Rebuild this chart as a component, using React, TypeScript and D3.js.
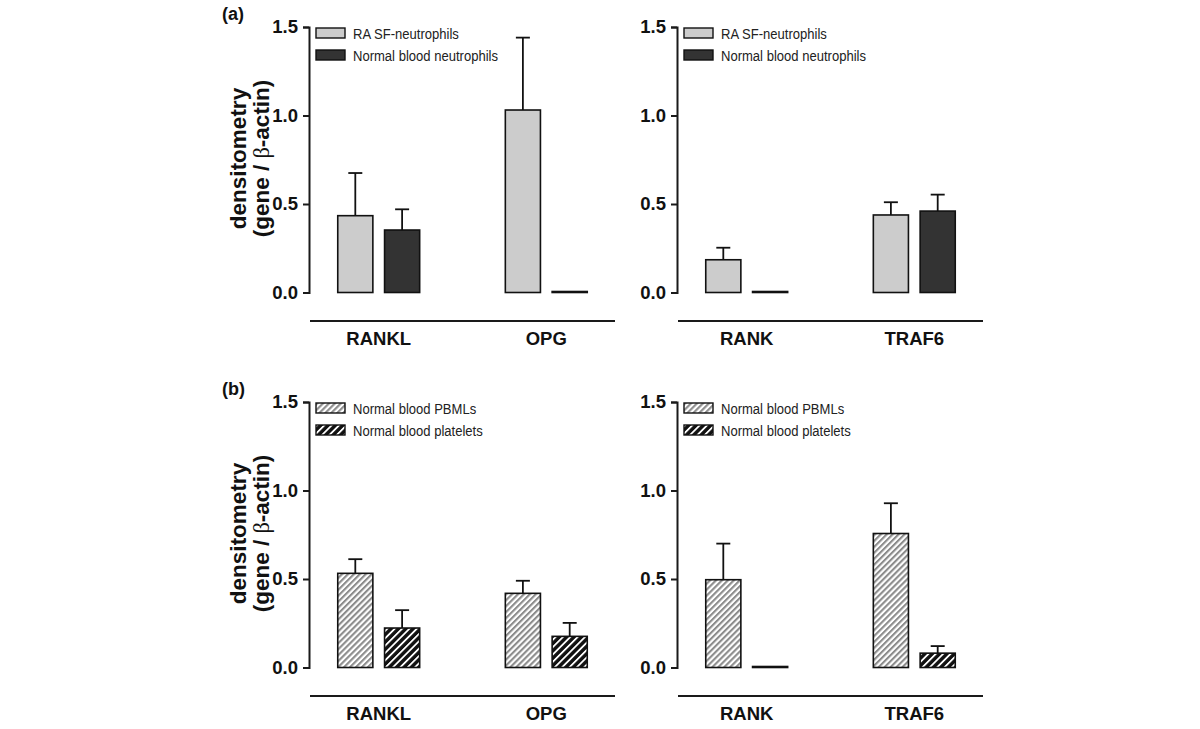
import React, { useEffect, useRef } from 'react';
import * as d3 from 'd3';

// genes, in panel order: left panel then right panel
const genes = ["RANKL", "OPG", "RANK", "TRAF6"];
const leftGenes = ["RANKL", "OPG"];
const rightGenes = ["RANK", "TRAF6"];

const neutSeries = ["RA SF-neutrophils", "Normal blood neutrophils"];
const cellSeries = ["Normal blood PBMLs", "Normal blood platelets"];

// (a) neutrophils, mean and SEM (gene / beta-actin)
const raSfMean = [0.434, 1.031, 0.185, 0.438];
const raSfSem = [0.241, 0.409, 0.068, 0.072];
const normNeutMean = [0.353, 0, 0, 0.46];
const normNeutSem = [0.117, 0, 0, 0.093];

// (b) PBMLs and platelets
const pbmlMean = [0.532, 0.419, 0.496, 0.757];
const pbmlSem = [0.08, 0.071, 0.204, 0.171];
const plateletMean = [0.223, 0.176, 0, 0.081];
const plateletSem = [0.101, 0.076, 0, 0.04];

const yTicks = [0, 0.5, 1.0, 1.5];

const App = () => {
  const svgRef = useRef(null);

  useEffect(() => {
    const svg = d3.select(svgRef.current);
    svg.selectAll("*").remove();

    const defs = svg.append("defs");
    const p1 = defs.append("pattern").attr("id", "hatchLight")
      .attr("patternUnits", "userSpaceOnUse").attr("width", 4.2).attr("height", 4.2)
      .attr("patternTransform", "rotate(45)");
    p1.append("rect").attr("width", 4.2).attr("height", 4.2).attr("fill", "#fff");
    p1.append("rect").attr("width", 2.1).attr("height", 4.2).attr("fill", "#8c8c8c");
    const p2 = defs.append("pattern").attr("id", "hatchDark")
      .attr("patternUnits", "userSpaceOnUse").attr("width", 5.2).attr("height", 5.2)
      .attr("patternTransform", "rotate(45)");
    p2.append("rect").attr("width", 5.2).attr("height", 5.2).attr("fill", "#111");
    p2.append("rect").attr("width", 1.8).attr("height", 5.2).attr("fill", "#fff");

    const sans = "'Liberation Sans', Arial, sans-serif";

    const panels = [
      { ax: 309, zero: 292.5, cats: leftGenes, series: neutSeries, means: [raSfMean, normNeutMean], sems: [raSfSem, normNeutSem], fills: ["#cccccc", "#333333"], label: "(a)", yLabel: true },
      { ax: 677, zero: 292.5, cats: rightGenes, series: neutSeries, means: [raSfMean, normNeutMean], sems: [raSfSem, normNeutSem], fills: ["#cccccc", "#333333"], label: null, yLabel: false },
      { ax: 309, zero: 667.5, cats: leftGenes, series: cellSeries, means: [pbmlMean, plateletMean], sems: [pbmlSem, plateletSem], fills: ["url(#hatchLight)", "url(#hatchDark)"], label: "(b)", yLabel: true },
      { ax: 677, zero: 667.5, cats: rightGenes, series: cellSeries, means: [pbmlMean, plateletMean], sems: [pbmlSem, plateletSem], fills: ["url(#hatchLight)", "url(#hatchDark)"], label: null, yLabel: false },
    ];

    panels.forEach(p => {
      const g = svg.append("g");
      const y = d3.scaleLinear().domain([0, 1.5]).range([p.zero, p.zero - 265.5]);
      const x0 = d3.scaleBand().domain(p.cats).range([p.ax + 1, p.ax + 306])
        .paddingInner(0.5).paddingOuter(0.16);
      const x1 = d3.scaleBand().domain(p.series).range([0, x0.bandwidth()])
        .paddingInner(0.25).paddingOuter(0.02);

      // y axis
      const yAxis = g.append("g").attr("transform", `translate(${p.ax},0)`)
        .call(d3.axisLeft(y).tickValues(yTicks).tickFormat(d3.format(".1f")).tickSizeOuter(0).tickSize(6).tickPadding(5));
      yAxis.select(".domain").attr("stroke", "#1a1a1a").attr("stroke-width", 2);
      yAxis.selectAll(".tick line").attr("stroke", "#1a1a1a").attr("stroke-width", 2);
      yAxis.selectAll(".tick text").attr("font-family", sans).attr("font-weight", "bold")
        .attr("font-size", 18.5).attr("fill", "#111");

      // bottom line + category labels
      g.append("line").attr("x1", p.ax + 1).attr("x2", p.ax + 306)
        .attr("y1", p.zero + 28.5).attr("y2", p.zero + 28.5)
        .attr("stroke", "#1a1a1a").attr("stroke-width", 2);
      g.selectAll(".cat").data(p.cats).enter().append("text")
        .attr("x", d => x0(d) + x0.bandwidth() / 2)
        .attr("y", p.zero + 52.5)
        .attr("text-anchor", "middle")
        .attr("font-family", sans).attr("font-weight", "bold").attr("font-size", 18.5)
        .attr("fill", "#111")
        .text(d => d);

      // bars with error bars
      p.cats.forEach(cat => {
        const gi = genes.indexOf(cat);
        p.series.forEach((s, si) => {
          const m = p.means[si][gi];
          const e = p.sems[si][gi];
          const bx = x0(cat) + x1(s);
          const bw = x1.bandwidth();
          const cx = bx + bw / 2;
          if (e > 0) {
            g.append("line").attr("x1", cx).attr("x2", cx).attr("y1", y(m)).attr("y2", y(m + e))
              .attr("stroke", "#111").attr("stroke-width", 1.8);
            g.append("line").attr("x1", cx - 7).attr("x2", cx + 7).attr("y1", y(m + e)).attr("y2", y(m + e))
              .attr("stroke", "#111").attr("stroke-width", 1.8);
          }
          g.append("rect").attr("x", bx).attr("y", y(m) - (m === 0 ? 1 : 0))
            .attr("width", bw).attr("height", Math.max(y(0) - y(m), 1))
            .attr("fill", m === 0 ? "#111" : p.fills[si])
            .attr("stroke", "#111").attr("stroke-width", 1.6);
        });
      });

      // legend
      const lg = g.append("g").attr("transform", `translate(${p.ax + 7},${p.zero - 264.5})`);
      p.series.forEach((s, si) => {
        lg.append("rect").attr("x", 0).attr("y", si * 22).attr("width", 29).attr("height", 10)
          .attr("fill", p.fills[si]).attr("stroke", "#111").attr("stroke-width", 1.4);
        lg.append("text")
          .attr("transform", `translate(37,${si * 22 + 10.5}) scale(0.9,1)`)
          .attr("font-family", sans).attr("font-size", 14.5).attr("fill", "#222")
          .text(s);
      });

      if (p.label) {
        svg.append("text").attr("x", 222).attr("y", p.zero - 273)
          .attr("font-family", sans).attr("font-weight", "bold").attr("font-size", 18)
          .attr("fill", "#111").text(p.label);
      }

      if (p.yLabel) {
        const cy = p.zero - 134;
        const t = svg.append("text")
          .attr("transform", `translate(246,${cy}) rotate(-90)`)
          .attr("text-anchor", "middle")
          .attr("font-family", sans).attr("font-weight", "bold").attr("font-size", 22.5)
          .attr("fill", "#111");
        t.append("tspan").attr("x", 0).attr("y", 0).text("densitometry");
        const t2 = t.append("tspan").attr("x", 0).attr("y", 23);
        t2.append("tspan").text("(gene / ");
        t2.append("tspan").attr("font-family", "'Liberation Serif', 'DejaVu Serif', serif")
          .attr("font-weight", "normal").text("β");
        t2.append("tspan").text("-actin)");
      }
    });
  }, []);

  return (
    <svg ref={svgRef} width={1200} height={729}
      style={{ position: "absolute", left: 0, top: 0, background: "#fff" }} />
  );
};

export default App;
